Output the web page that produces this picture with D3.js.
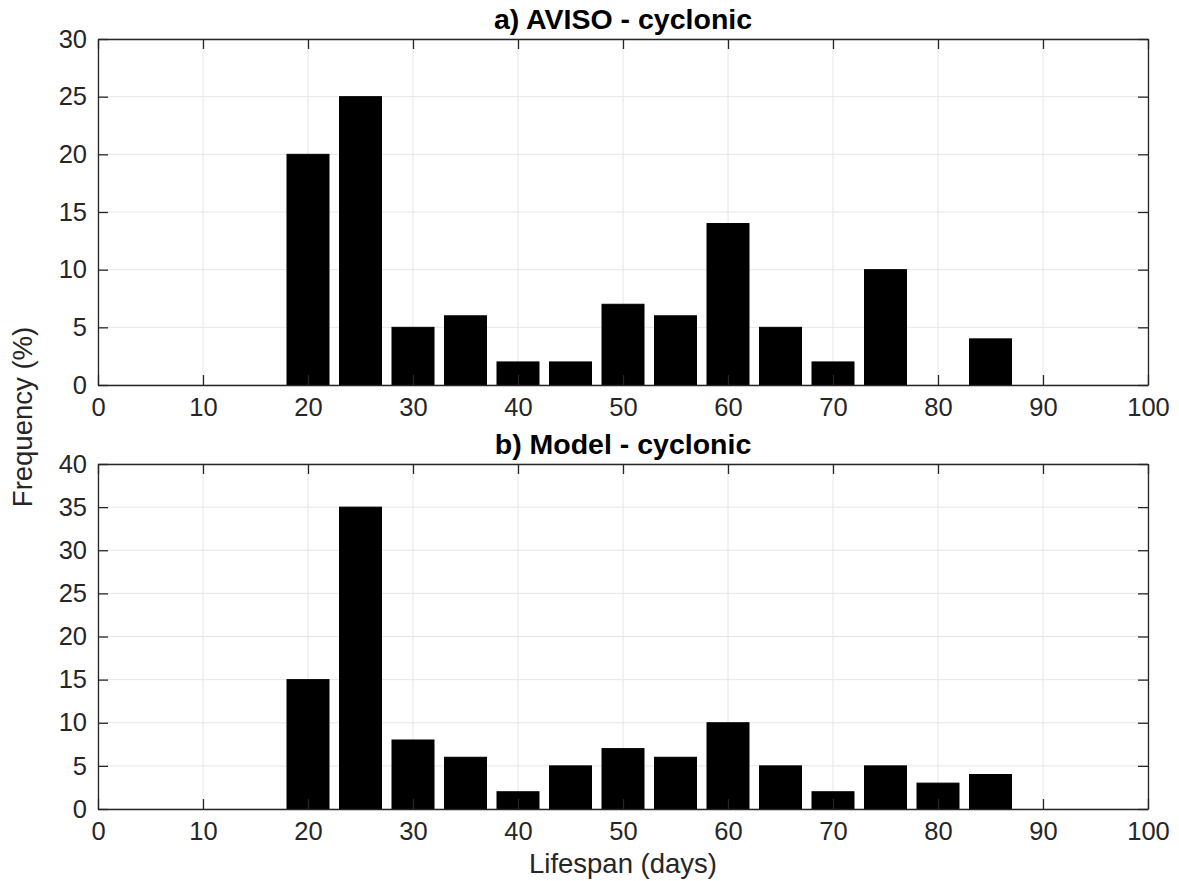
<!DOCTYPE html>
<html>
<head>
<meta charset="utf-8">
<script src="https://cdn.jsdelivr.net/npm/d3@7"></script>
<style>
  html, body { margin: 0; padding: 0; background: #fff; }
  svg { display: block; }
  text { font-family: "Liberation Sans", Arial, Helvetica, sans-serif; }
</style>
</head>
<body>
<div id="chart"></div>
<script>
// Lifespan bin centres (days)
const binCenters = [5, 10, 15, 20, 25, 30, 35, 40, 45, 50, 55, 60, 65, 70, 75, 80, 85, 90, 95];
// Frequency (%) per bin
const avisoFreq = [0, 0, 0, 20, 25, 5, 6, 2, 2, 7, 6, 14, 5, 2, 10, 0, 4, 0, 0];
const modelFreq = [0, 0, 0, 15, 35, 8, 6, 2, 5, 7, 6, 10, 5, 2, 5, 3, 4, 0, 0];
const xTicks = [0, 10, 20, 30, 40, 50, 60, 70, 80, 90, 100];
const yTicksA = [0, 5, 10, 15, 20, 25, 30];
const yTicksB = [0, 5, 10, 15, 20, 25, 30, 35, 40];
const panelTitles = ["a) AVISO - cyclonic", "b) Model - cyclonic"];

const W = 1179, H = 881;
const svg = d3.select("#chart").append("svg").attr("width", W).attr("height", H);

const axisColor = "#262626";
const gridColor = "#e6e6e6";
const tickLen = 10;
const binWidth = 4;
const tickFont = 25.5;

const panels = [
  { top: 39, bottom: 385, values: avisoFreq, yMax: 30, yTicks: yTicksA, title: panelTitles[0] },
  { top: 464, bottom: 809, values: modelFreq, yMax: 40, yTicks: yTicksB, title: panelTitles[1] }
];
const left = 98, right = 1148;

panels.forEach(p => {
  const x = d3.scaleLinear().domain([0, 100]).range([left, right]);
  const y = d3.scaleLinear().domain([0, p.yMax]).range([p.bottom, p.top]);
  const g = svg.append("g");

  // grid
  g.append("g").selectAll("line").data(xTicks).join("line")
    .attr("x1", d => x(d)).attr("x2", d => x(d))
    .attr("y1", p.top).attr("y2", p.bottom)
    .attr("stroke", gridColor).attr("stroke-width", 1);
  g.append("g").selectAll("line").data(p.yTicks).join("line")
    .attr("x1", left).attr("x2", right)
    .attr("y1", d => y(d)).attr("y2", d => y(d))
    .attr("stroke", gridColor).attr("stroke-width", 1);

  // bars
  g.append("g").selectAll("rect").data(binCenters).join("rect")
    .attr("x", d => x(d - binWidth / 2))
    .attr("width", x(binWidth) - x(0))
    .attr("y", (d, i) => y(p.values[i]))
    .attr("height", (d, i) => y(0) - y(p.values[i]))
    .attr("fill", "#000")
    .attr("stroke", "#000")
    .attr("stroke-width", 1);

  // axes (bottom/left with inward ticks, mirrored on top/right)
  const xAxB = d3.axisBottom(x).tickValues(xTicks).tickSizeInner(-tickLen).tickSizeOuter(0).tickPadding(13);
  const xAxT = d3.axisTop(x).tickValues(xTicks).tickSizeInner(-tickLen).tickSizeOuter(0).tickFormat("");
  const yAxL = d3.axisLeft(y).tickValues(p.yTicks).tickSizeInner(-tickLen).tickSizeOuter(0).tickPadding(11);
  const yAxR = d3.axisRight(y).tickValues(p.yTicks).tickSizeInner(-tickLen).tickSizeOuter(0).tickFormat("");

  const styleAxis = sel => {
    sel.selectAll("path").attr("stroke", axisColor).attr("stroke-width", 1.3);
    sel.selectAll("line").attr("stroke", axisColor).attr("stroke-width", 1.3);
    sel.selectAll("text").attr("fill", axisColor).attr("font-size", tickFont)
      .style("font-family", "'Liberation Sans', Arial, sans-serif");
  };
  g.append("g").attr("transform", `translate(0,${p.bottom})`).call(xAxB).call(styleAxis);
  g.append("g").attr("transform", `translate(0,${p.top})`).call(xAxT).call(styleAxis);
  g.append("g").attr("transform", `translate(${left},0)`).call(yAxL).call(styleAxis);
  g.append("g").attr("transform", `translate(${right},0)`).call(yAxR).call(styleAxis);

  // title
  svg.append("text")
    .attr("x", (left + right) / 2).attr("y", p.top - 10)
    .attr("text-anchor", "middle")
    .attr("font-size", 28.5).attr("font-weight", "bold").attr("fill", "#000")
    .text(p.title);
});

// shared axis labels
svg.append("text")
  .attr("transform", `translate(32,417) rotate(-90)`)
  .attr("text-anchor", "middle")
  .attr("font-size", 27.5).attr("fill", axisColor)
  .text("Frequency (%)");

svg.append("text")
  .attr("x", 623).attr("y", 873)
  .attr("text-anchor", "middle")
  .attr("font-size", 27.5).attr("fill", axisColor)
  .text("Lifespan (days)");
</script>
</body>
</html>
